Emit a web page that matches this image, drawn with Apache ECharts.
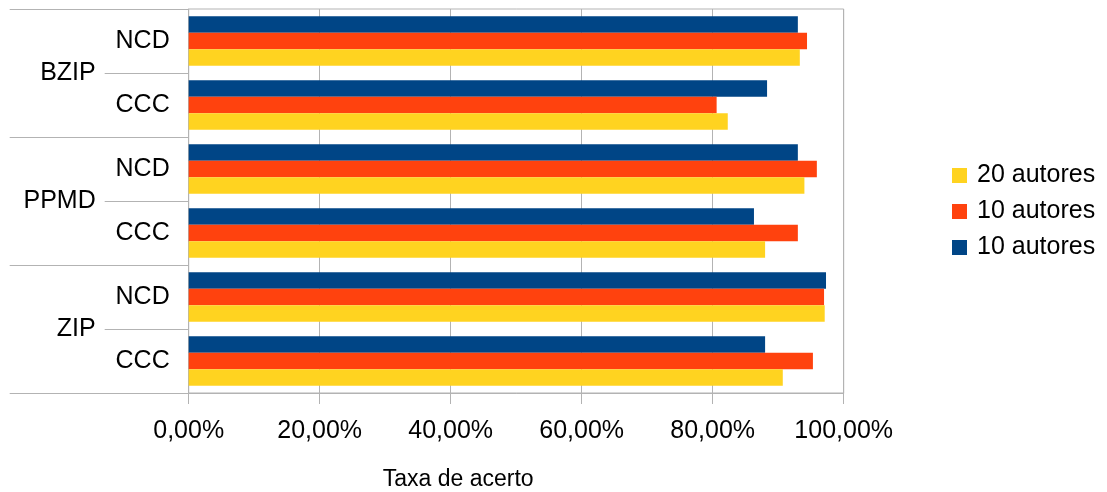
<!DOCTYPE html>
<html>
<head>
<meta charset="utf-8">
<script src="https://cdn.jsdelivr.net/npm/echarts@6/dist/echarts.min.js"></script>
<style>
html,body{margin:0;padding:0;background:#fff;}
#chart{width:1107px;height:492px;}
</style>
</head>
<body>
<div id="chart"></div>
<script>
// Categories (bottom to top)
const subCategories = ['CCC', 'NCD', 'CCC', 'NCD', 'CCC', 'NCD'];
const groupCategories = ['ZIP', 'PPMD', 'BZIP'];
// Series labels (legend order) and values in %
const legendLabels = ['20 autores', '10 autores', '10 autores'];
const yellow20 = [90.7, 97.1, 88.0, 94.0, 82.3, 93.3];
const red10 = [95.3, 97.0, 93.0, 95.9, 80.6, 94.4];
const blue10 = [88.0, 97.3, 86.3, 93.0, 88.3, 93.0];
const xTicks = [0, 20, 40, 60, 80, 100];
const axisTitle = 'Taxa de acerto';

const FONT = 'Liberation Sans';
const GRAY = '#b3b3b3';
const ids = ['s20', 's10a', 's10b'];
const labelById = {s20: legendLabels[0], s10a: legendLabels[1], s10b: legendLabels[2]};

const chart = echarts.init(document.getElementById('chart'), null, {renderer: 'canvas'});
chart.setOption({
  animation: false,
  backgroundColor: '#fff',
  textStyle: {fontFamily: FONT},
  grid: {left: 188.7, right: 263.3, top: 9, bottom: 99, show: true, borderColor: GRAY, borderWidth: 1, containLabel: false, outerBoundsMode: 'none'},
  legend: {
    orient: 'vertical',
    left: 947,
    top: 158,
    itemWidth: 15,
    itemHeight: 15,
    itemGap: 11,
    icon: 'rect',
    data: ids,
    formatter: n => labelById[n],
    textStyle: {fontFamily: FONT, fontSize: 25, color: '#000', padding: [0, 0, 0, 5]}
  },
  xAxis: {
    type: 'value',
    min: xTicks[0],
    max: xTicks[xTicks.length - 1],
    interval: 20,
    name: axisTitle,
    nameLocation: 'middle',
    nameGap: 75,
    nameTextStyle: {fontFamily: FONT, fontSize: 23, color: '#000', padding: [0, 116, 0, 0]},
    axisLine: {show: true, lineStyle: {color: GRAY}},
    axisTick: {show: true, length: 11, lineStyle: {color: GRAY}},
    splitLine: {show: true, lineStyle: {color: GRAY}},
    axisLabel: {
      fontFamily: FONT, fontSize: 25, color: '#000', margin: 26,
      formatter: v => v.toFixed(2).replace('.', ',') + '%'
    }
  },
  yAxis: [
    {
      type: 'category',
      data: subCategories,
      position: 'left',
      axisLine: {show: true, lineStyle: {color: GRAY}},
      axisTick: {show: true, length: 84, lineStyle: {color: GRAY}},
      axisLabel: {fontFamily: FONT, fontSize: 25, color: '#000', margin: 19, padding: [5, 0, 0, 0]}
    },
    {
      type: 'category',
      data: groupCategories,
      position: 'left',
      offset: 0,
      axisLine: {show: false},
      axisTick: {show: true, length: 179, lineStyle: {color: GRAY}},
      axisLabel: {fontFamily: FONT, fontSize: 25, color: '#000', margin: 93, padding: [5, 0, 0, 0]},
      splitLine: {show: false}
    }
  ],
  series: [
    {name: 's10b', type: 'bar', yAxisIndex: 0, data: blue10, itemStyle: {color: '#004586'}, barGap: '0%', barCategoryGap: '23%'},
    {name: 's10a', type: 'bar', yAxisIndex: 0, data: red10, itemStyle: {color: '#ff420e'}, barGap: '0%', barCategoryGap: '23%'},
    {name: 's20', type: 'bar', yAxisIndex: 0, data: yellow20, itemStyle: {color: '#ffd320'}, barGap: '0%', barCategoryGap: '23%'}
  ]
});
</script>
</body>
</html>
